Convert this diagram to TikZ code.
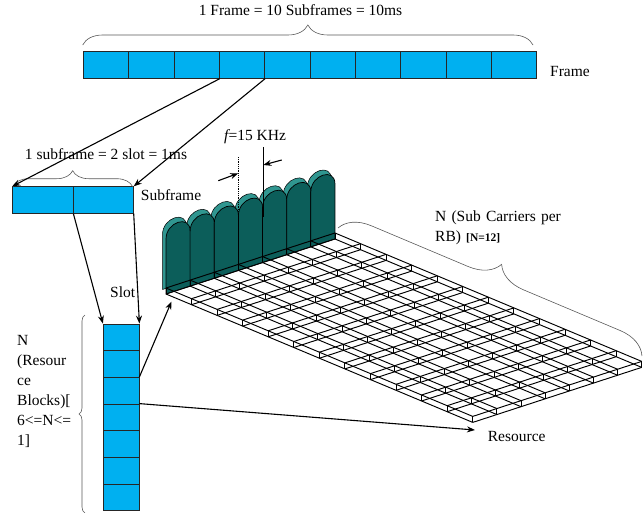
\documentclass[tikz,border=0pt]{standalone}
\usepackage{fontspec}
\setmainfont{Liberation Serif}
\usetikzlibrary{positioning,arrows.meta,decorations.pathreplacing,calc}
\definecolor{cellblue}{RGB}{0,176,240}
\definecolor{wallfront}{RGB}{12,94,90}
\definecolor{walltop}{RGB}{48,150,144}

\begin{document}
\begin{tikzpicture}[x=1pt, y=-1pt,
    lbl/.style={font=\fontsize{15.5}{20}\selectfont, inner sep=0pt},
    fcell/.style={draw=black!85, fill=cellblue, line width=0.8pt, inner sep=0pt, minimum width=45.34pt, minimum height=26.6pt},
    scell/.style={fcell, minimum width=60.3pt},
    lcell/.style={fcell, minimum width=35.7pt, minimum height=26.67pt},
    connect/.style={-{Stealth[length=8pt,width=6pt]}, line width=1.1pt},
    curly/.style={decorate, decoration={brace, amplitude=#1}, draw=black!65, line width=0.6pt},
    meshline/.style={line width=0.95pt},
    plate/.style={draw=black, fill=wallfront, line width=0.7pt},
]
  \useasboundingbox (0,0) rectangle (644,513);

  % frame, subframe and slot
  \foreach \i in {1,...,10}
    \node[fcell] (fr\i) at ({83.3+45.34*(\i-0.5)}, 65) {};
  \node[scell] (sf1) at (42.85,200) {};
  \node[scell] (sf2) at (103.15,200) {};
  \foreach \i in {1,...,7}
    \node[lcell] (sl\i) at (121.15, {324+26.67*(\i-0.5)}) {};

  \node[lbl, anchor=base] (title) at (300.5,16) {1 Frame = 10 Subframes = 10ms};
  \node[lbl, anchor=base west] (framelbl) at (550,76.7) {Frame};
  \node[lbl, anchor=base] (subtitle) at (106,160) {1 subframe = 2 slot = 1ms};
  \node[lbl, anchor=base west] (sublbl) at (140.7,200) {Subframe};
  \node[lbl, anchor=base west] (slotlbl) at (110,297.3) {Slot};
  \node[lbl, anchor=base west, text width=70pt, align=left] (rblbl) at (17,345) {N\\(Resour\\ce\\Blocks)[\\6<=N<=\\1]};

  \draw[curly=20] (82.7,45) -- (533,45);
  \draw[curly=16] (12.7,186.7) -- (132.7,186.7);
  \draw[curly=6] (85,513) -- (85,315);

  % wall of subcarriers
  \begin{scope}[shift={(166,294)}, x={(24.14pt,7.86pt)}, y={(0pt,1pt)}]
    \foreach \k in {0,...,6}
      \filldraw[fill=walltop, draw=black, line width=0.5pt, shift={(-3.5pt,4.5pt)}] (\k,0) -- (\k,55) .. controls (\k,72) and (\k+1,72) .. (\k+1,55) -- (\k+1,0) -- cycle;
    \foreach \k in {0,...,6}
      \draw[plate] (\k,0) -- (\k,55) .. controls (\k,72) and (\k+1,72) .. (\k+1,55) -- (\k+1,0) -- cycle;
  \end{scope}

  % resource grid
  \begin{scope}[shift={(166,288)}, x={(24.14pt,7.86pt)}, y={(25.56pt,-10.7pt)}, meshline]
    \foreach \i in {0,...,7} {
      \draw (\i,0) -- (\i,12);
      \draw[shift={(0pt,-6pt)}] (\i,0) -- (\i,12);
    }
    \foreach \j in {0,...,12} {
      \draw (0,\j) -- (7,\j);
      \draw[shift={(0pt,-6pt)}] (0,\j) -- (7,\j);
    }
    \foreach \i in {0,...,7}
      \foreach \j in {0,...,12}
        \draw (\i,\j) -- ++(0pt,-6pt);
  \end{scope}

  \draw[curly=30] (338,228) -- (642,356);
  \node[lbl, anchor=base west, text width=150pt, align=left] (sclbl) at (435,221.7) {N (Sub Carriers per\\RB) {\fontsize{11.5}{13}\selectfont\bfseries[N=12]}};

  % subcarrier spacing
  \coordinate (dottop) at (238.3,157);
  \coordinate (dotbot) at (238.3,230);
  \coordinate (soltop) at (263.3,147);
  \coordinate (solbot) at (263.3,217);
  \draw[densely dotted, line width=0.8pt] (dottop) -- (dotbot);
  \draw[line width=0.8pt] (soltop) -- (solbot);
  \coordinate (lin) at (218.3,180.7);
  \coordinate (rin) at (281.7,160);
  \draw[connect] (lin) -- (238.3,173.3);
  \draw[connect] (rin) -- (263.3,165);
  \node[lbl, anchor=base west] (freqlbl) at (224,140.7) {{\itshape f}=15 KHz};

  \coordinate (gridtip) at (171.5,301.5);
  \coordinate (restip) at (475,430);
  \node[lbl, anchor=base west] (reslbl) at (487.7,441) {Resource};

  % connectors
  \draw[connect] (fr3.south east) -- (sf1.north west);
  \draw[connect] (fr4.south east) -- (sf2.north east);
  \draw[connect] (sf1.south east) -- (sl1.north west);
  \draw[connect] (sf2.south east) -- (sl1.north east);
  \draw[connect] (sl3.north east) -- (gridtip);
  \draw[connect] (sl4.north east) -- (restip);
\end{tikzpicture}
\end{document}
